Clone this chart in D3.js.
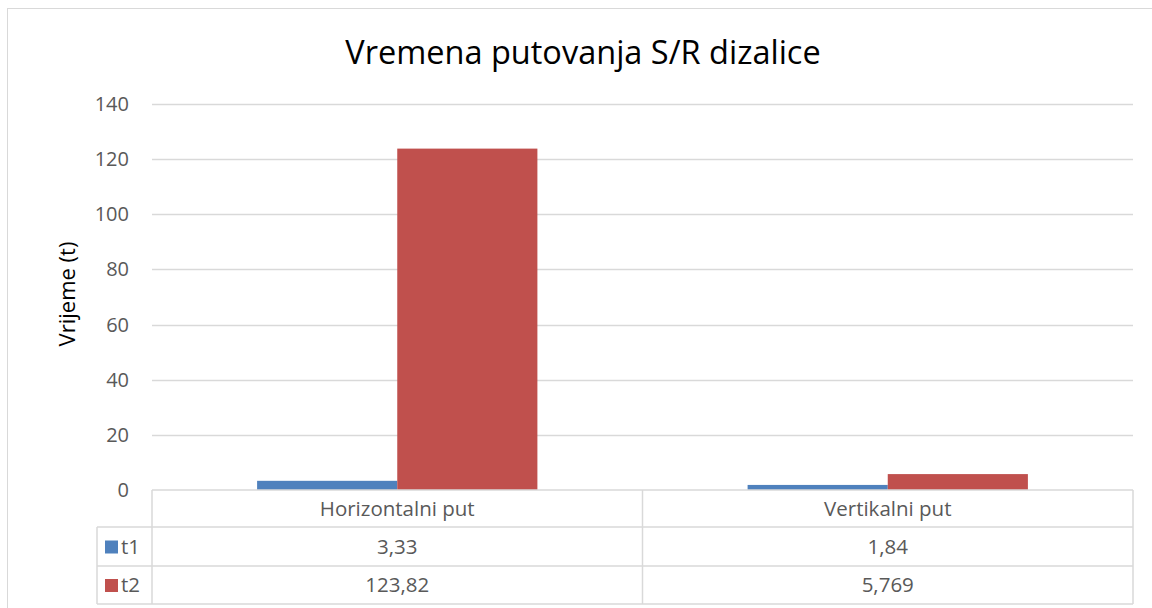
<!DOCTYPE html>
<html>
<head>
<meta charset="utf-8">
<script src="https://cdn.jsdelivr.net/npm/d3@7"></script>
<style>
  body { margin: 0; background: #fff; }
  svg text { font-family: "Open Sans", "Noto Sans", sans-serif; }
</style>
</head>
<body>
<svg id="chart" width="1152" height="608"></svg>
<script>
var categories = ['Horizontalni put', 'Vertikalni put'];
var seriesNames = ['t1', 't2'];
var t1 = [3.33, 1.84];
var t2 = [123.82, 5.769];
var t1Labels = ['3,33', '1,84'];
var t2Labels = ['123,82', '5,769'];
var yTicks = [0, 20, 40, 60, 80, 100, 120, 140];
var colors = ['#4f81bd', '#c0504d'];

var plot = {left: 152, right: 1133, top: 104, bottom: 490};
var rowH = [37, 39, 38];

var svg = d3.select('#chart');

// outer chart frame
svg.append('rect')
    .attr('x', 7.5).attr('y', 8.5)
    .attr('width', 1152).attr('height', 610)
    .attr('fill', 'none').attr('stroke', '#d9d9d9');

// title
svg.append('text')
    .attr('x', 583).attr('y', 64)
    .attr('text-anchor', 'middle')
    .attr('font-size', 32.5)
    .attr('fill', '#000')
    .text('Vremena putovanja S/R dizalice');

var x0 = d3.scaleBand().domain(categories).range([plot.left, plot.right]);
var x1 = d3.scaleBand().domain(seriesNames)
    .range([0, x0.bandwidth()]).paddingInner(0).paddingOuter(0.75);
var y = d3.scaleLinear().domain([0, 140]).range([plot.bottom, plot.top]);

// gridlines
svg.append('g').selectAll('line')
    .data(yTicks.slice(1))
    .enter().append('line')
    .attr('x1', plot.left).attr('x2', plot.right)
    .attr('y1', function(d) { return Math.round(y(d)) + 0.5; })
    .attr('y2', function(d) { return Math.round(y(d)) + 0.5; })
    .attr('stroke', '#d9d9d9').attr('stroke-width', 1.5);

// y tick labels
svg.append('g').selectAll('text')
    .data(yTicks)
    .enter().append('text')
    .attr('x', 129)
    .attr('y', function(d) { return y(d); })
    .attr('dy', '0.35em')
    .attr('text-anchor', 'end')
    .attr('font-size', 20)
    .attr('fill', '#595959')
    .text(function(d) { return d; });

// y axis title
svg.append('text')
    .attr('transform', 'translate(75,' + 294 + ') rotate(-90)')
    .attr('text-anchor', 'middle')
    .attr('font-size', 22)
    .attr('fill', '#000')
    .text('Vrijeme (t)');

// bars
var series = [t1, t2];
series.forEach(function(vals, si) {
    svg.append('g').selectAll('rect')
        .data(vals)
        .enter().append('rect')
        .attr('x', function(d, i) { return x0(categories[i]) + x1(seriesNames[si]); })
        .attr('width', x1.bandwidth())
        .attr('y', function(d) { return y(d); })
        .attr('height', function(d) { return y(0) - y(d); })
        .attr('fill', colors[si]);
});

// data table
var tbl = svg.append('g');
var lineColor = '#d9d9d9';
var r1 = plot.bottom + rowH[0];
var r2 = r1 + rowH[1];
var r3 = r2 + rowH[2];
var legendLeft = 97;

function hline(x1_, x2_, yy) {
    tbl.append('line').attr('x1', x1_).attr('x2', x2_).attr('y1', yy).attr('y2', yy)
        .attr('stroke', lineColor).attr('stroke-width', 1.5);
}
function vline(xx, y1_, y2_) {
    tbl.append('line').attr('x1', xx).attr('x2', xx).attr('y1', y1_).attr('y2', y2_)
        .attr('stroke', lineColor).attr('stroke-width', 1.5);
}
hline(plot.left, plot.right, plot.bottom);
hline(legendLeft, plot.right, r1);
hline(legendLeft, plot.right, r2);
hline(legendLeft, plot.right, r3);
vline(legendLeft, r1, r3);
vline(plot.left, plot.bottom, r3);
categories.forEach(function(c) {
    vline(x0(c) + x0.bandwidth(), plot.bottom, r3);
});

// header row: category labels
tbl.selectAll('text.cat')
    .data(categories)
    .enter().append('text')
    .attr('class', 'cat')
    .attr('x', function(d) { return x0(d) + x0.bandwidth() / 2; })
    .attr('y', plot.bottom + rowH[0] / 2)
    .attr('dy', '0.35em')
    .attr('text-anchor', 'middle')
    .attr('font-size', 20.5)
    .attr('fill', '#595959')
    .text(function(d) { return d; });

var rowLabels = [t1Labels, t2Labels];
var rowTops = [r1, r2];
var rowHeights = [rowH[1], rowH[2]];
rowLabels.forEach(function(labels, si) {
    var cy = rowTops[si] + rowHeights[si] / 2;
    tbl.append('rect')
        .attr('x', 105).attr('y', cy - 6)
        .attr('width', 13).attr('height', 13)
        .attr('fill', colors[si]);
    tbl.append('text')
        .attr('x', 121).attr('y', cy)
        .attr('dy', '0.35em')
        .attr('font-size', 20.5)
        .attr('fill', '#595959')
        .text(seriesNames[si]);
    tbl.selectAll('text.v' + si)
        .data(labels)
        .enter().append('text')
        .attr('class', 'v' + si)
        .attr('x', function(d, i) { return x0(categories[i]) + x0.bandwidth() / 2; })
        .attr('y', cy)
        .attr('dy', '0.35em')
        .attr('text-anchor', 'middle')
        .attr('font-size', 20.5)
        .attr('fill', '#595959')
        .text(function(d) { return d; });
});
</script>
</body>
</html>
